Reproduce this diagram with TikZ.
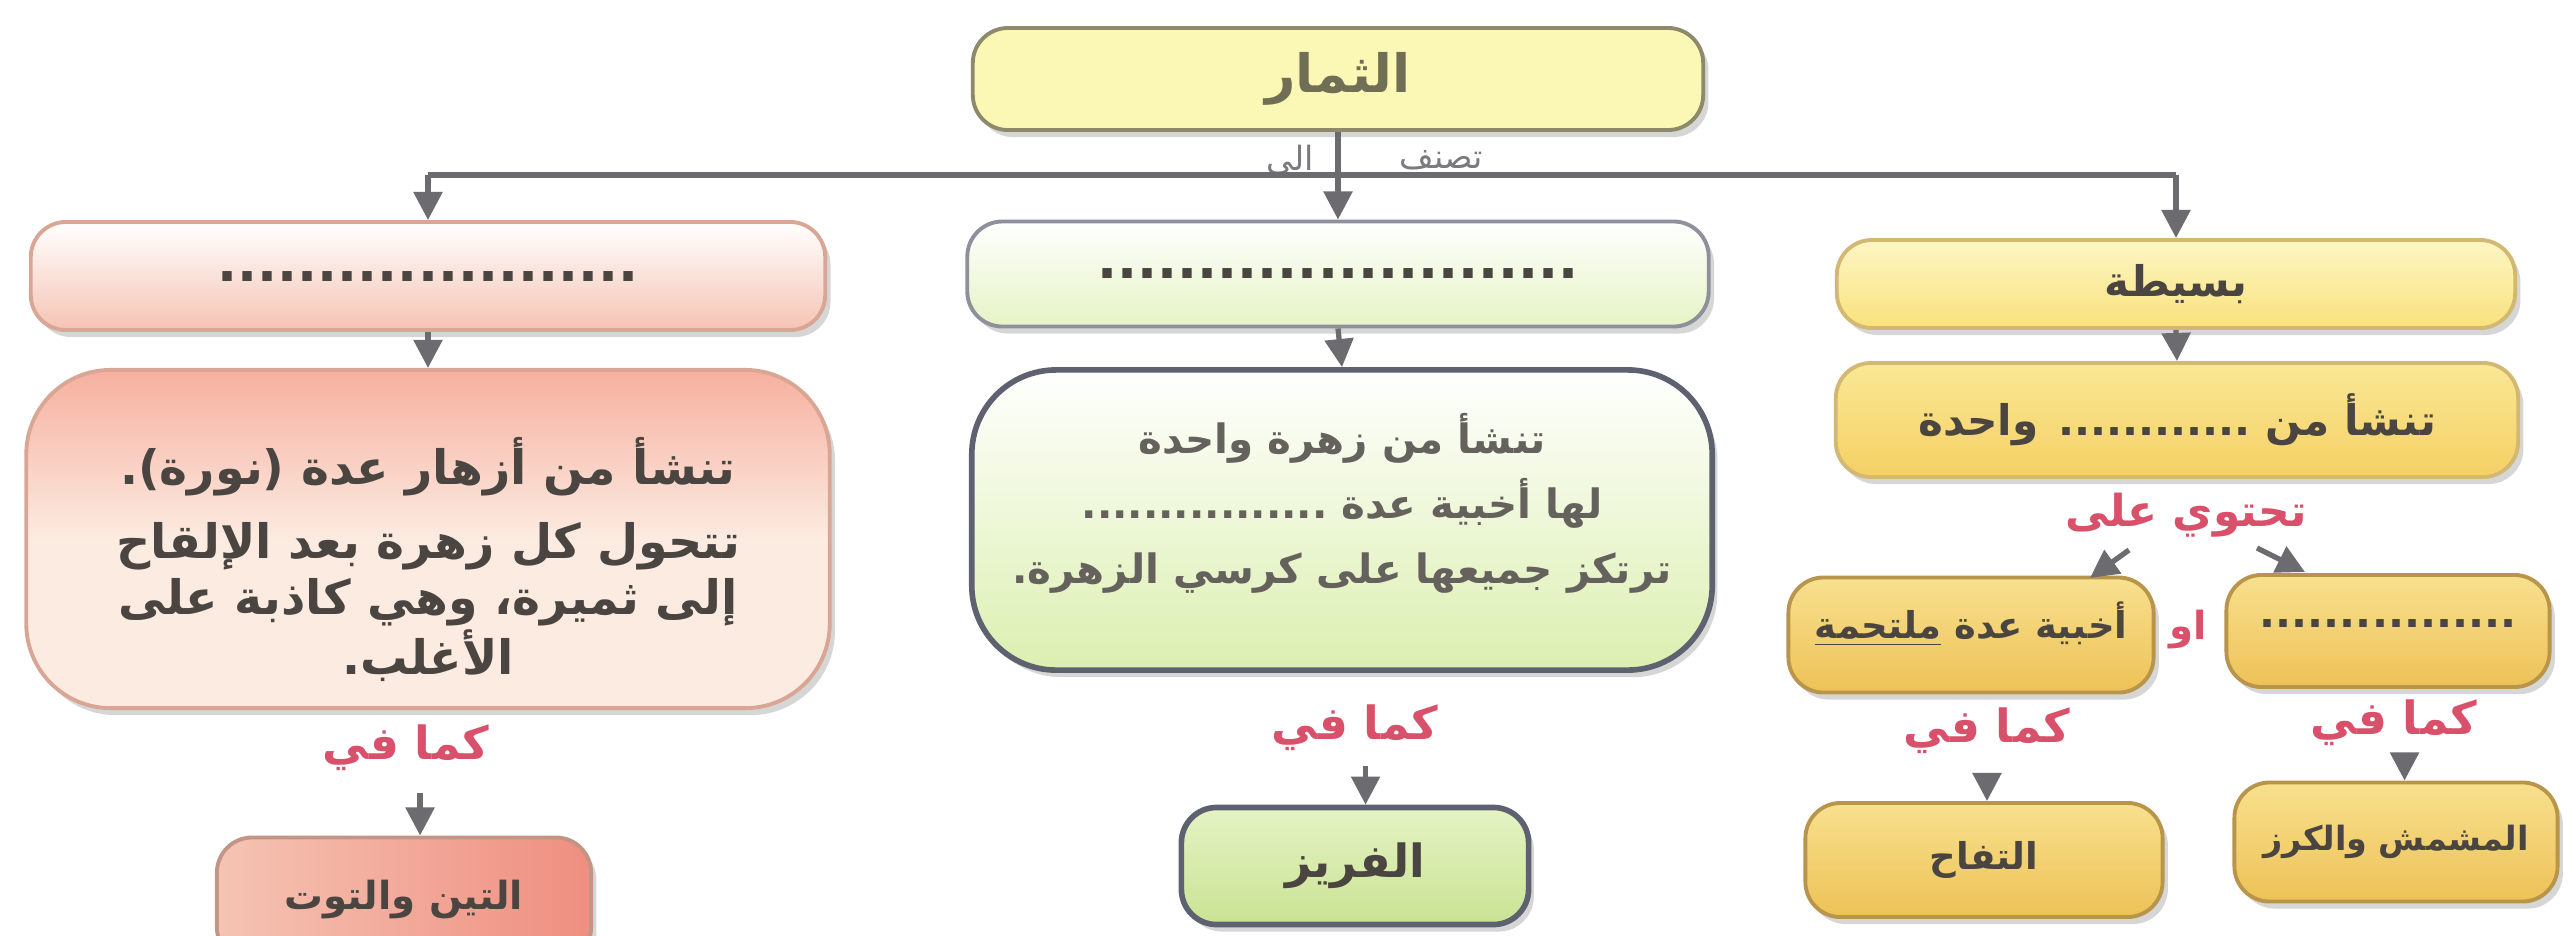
\documentclass[tikz,border=0pt]{standalone}
\usepackage{fontspec}
\setmainfont{DejaVu Sans}
\newfontfamily\arfont[Script=Arabic]{DejaVu Sans}
\TeXXeTstate=1
\usetikzlibrary{arrows.meta,shadows}
\newcommand{\AR}[1]{\beginR #1\endR}
\definecolor{arrgray}{HTML}{6C6C70}
\definecolor{redlab}{HTML}{D9506A}
\definecolor{txtdark}{HTML}{4A4540}
\definecolor{topfill}{HTML}{FBF7B4}
\definecolor{topdraw}{HTML}{8C8A6A}
\definecolor{pinkA}{HTML}{F5C4B4}
\definecolor{pinkB}{HTML}{F6B09F}
\definecolor{pinkC}{HTML}{FCEBE1}
\definecolor{pinkD}{HTML}{EF8E80}
\definecolor{pinkdraw}{HTML}{D9A696}
\definecolor{greenA}{HTML}{E5F3C4}
\definecolor{greenB}{HTML}{DCEFB0}
\definecolor{greenC}{HTML}{C9E393}
\definecolor{bluedraw}{HTML}{5E6170}
\definecolor{yelA}{HTML}{FDF6C4}
\definecolor{yelB}{HTML}{F8E27C}
\definecolor{yelC}{HTML}{F9E896}
\definecolor{yelD}{HTML}{F5D064}
\definecolor{yeldraw}{HTML}{D2B873}
\definecolor{goldA}{HTML}{F8E08E}
\definecolor{goldB}{HTML}{EDC257}
\definecolor{golddraw}{HTML}{B8954A}
\newcommand{\fs}[2]{\arfont\bfseries\fontsize{#1}{#2}\selectfont}
\newcommand{\up}[2]{\raisebox{#1}[\height][\depth]{#2}}
\begin{document}
\begin{tikzpicture}[x=0.01cm,y=-0.01cm,
  box/.style={rounded corners=10pt, line width=1.1pt, align=center, inner sep=0pt,
    font=\fs{12}{16}, text=txtdark,
    drop shadow={shadow xshift=1.5pt, shadow yshift=-2pt, fill=black!45, opacity=0.35}},
  arr/.style={draw=arrgray, line width=1.5pt, -{Triangle[width=8pt,length=8pt]}},
  lab/.style={font=\fs{13}{15}, text=redlab, inner sep=0pt},
  small/.style={font=\arfont\fontsize{9.5}{11}\selectfont, text=arrgray!90, inner sep=0pt}]
\useasboundingbox (0,0) rectangle (2574,935);
\clip (0,0) rectangle (2574,935);
\fill[white] (0,0) rectangle (2574,935);

% top
\node[box, draw=topdraw, fill=topfill, minimum width=7.3cm, minimum height=1.02cm,
  font=\fs{15}{18}, text=topdraw!80!black] (top) at (1338,79) {\AR{الثمار}};

% row 1
\node[box, draw=pinkdraw, top color=white, bottom color=pinkA, minimum width=7.94cm, minimum height=1.08cm, font=\fs{15}{16}] (L1) at (428,276) {.....................};
\node[box, draw=bluedraw!70, top color=white, bottom color=greenA, minimum width=7.41cm, minimum height=1.05cm, font=\fs{15}{16}] (M1) at (1338,274) {........................};
\node[box, draw=yeldraw, top color=yelA, bottom color=yelB, minimum width=6.78cm, minimum height=0.88cm] (R1) at (2176,284) {\AR{بسيطة}};

% row 2
\node[box, rounded corners=24pt, draw=pinkdraw, top color=pinkB, bottom color=pinkC, middle color=pinkC, minimum width=8.03cm, minimum height=3.38cm,
  font=\fs{13.5}{16}] (L2) at (428,539)
  {\mbox{}\\[9pt]\AR{تنشأ من أزهار عدة (نورة).}\\[5pt]\AR{تتحول كل زهرة بعد الإلقاح}\\\AR{إلى ثميرة، وهي كاذبة على}\\\AR{الأغلب.}};
\node[box, rounded corners=24pt, draw=bluedraw, line width=1.6pt, top color=white, bottom color=greenB, minimum width=7.4cm, minimum height=3.0cm,
  font=\fs{11.5}{18.5}, text=txtdark!85] (M2) at (1342,520)
  {\AR{تنشأ من زهرة واحدة}\\\AR{لها أخبية عدة ................}\\\AR{ترتكز جميعها على كرسي الزهرة.}\\[-6pt]};
\node[box, draw=yeldraw, top color=yelC, bottom color=yelD, minimum width=6.82cm, minimum height=1.14cm] (R2) at (2177,420) {\AR{تنشأ من ............ واحدة}};

% row 3 (right)
\node[box, draw=golddraw, top color=goldA, bottom color=goldB, minimum width=3.65cm, minimum height=1.15cm,
  font=\fs{10.5}{13}] (R3a) at (1971,635) {\up{3pt}{\AR{أخبية عدة \underline{ملتحمة}}}};
\node[box, draw=golddraw, top color=goldA, bottom color=goldB, minimum width=3.23cm, minimum height=1.12cm,
  font=\fs{12}{13}] (R3b) at (2388,631) {\up{2pt}{................}};

% bottom row
\node[box, draw=pinkdraw!90!black, left color=pinkA, right color=pinkD, minimum width=3.74cm, minimum height=1.25cm,
  font=\fs{11}{14}] (L3) at (404,900) {\AR{التين والتوت}};
\node[box, draw=bluedraw, line width=1.6pt, top color=greenA, bottom color=greenC, minimum width=3.47cm, minimum height=1.17cm,
  font=\fs{13}{16}] (M3) at (1355,866) {\AR{الفريز}};
\node[box, draw=golddraw, top color=goldA, bottom color=goldB, minimum width=3.57cm, minimum height=1.14cm,
  font=\fs{10.5}{14}] (R4a) at (1984,860) {\AR{التفاح}};
\node[box, draw=golddraw, top color=goldA, bottom color=goldB, minimum width=3.23cm, minimum height=1.19cm,
  font=\fs{9.5}{14}] (R4b) at (2396,842) {\AR{المشمش والكرز}};

% labels
\node[small] (tas) at (1441,160) {\AR{تصنف}};
\node[small] (ila) at (1290,160) {\AR{الى}};
\node[lab, font=\fs{12.5}{15}] (contains) at (2186,515) {\AR{تحتوي على}};
\node[lab, font=\fs{11}{13}] (aw) at (2188,630) {\AR{او}};
\node[lab] (kL) at (406,748) {\AR{كما في}};
\node[lab] (kM) at (1355,728) {\AR{كما في}};
\node[lab] (kRa) at (1987,731) {\AR{كما في}};
\node[lab] (kRb) at (2394,723) {\AR{كما في}};

% connectors
\coordinate (hl) at (428,175);
\coordinate (hr) at (2176,175);
\draw[arr] (top.south -| M1.north) -- (M1.north);
\draw[draw=arrgray, line width=1.5pt] (hl) -- (hr);
\draw[arr] (hl) -- (L1.north);
\draw[arr] (hr) -- (R1.north);
\draw[arr] (L1.south) -- (L2.north);
\draw[arr] (M1.south) -- (M2.north);
\draw[arr] (R1.south) -- (R2.north);
\coordinate (d1s) at (2129,550);
\coordinate (d1e) at (2090,578);
\coordinate (d2s) at (2257,548);
\coordinate (d2e) at (2305,572);
\draw[arr] (d1s) -- (d1e);
\draw[arr] (d2s) -- (d2e);
\draw[arr] ([xshift=4pt,yshift=-6pt]kL.south) -- ([xshift=4pt]kL.south |- L3.north);
\draw[arr] ([xshift=3pt,yshift=-4pt]kM.south) -- ([xshift=3pt]kM.south |- M3.north);
\draw[arr] ([yshift=-6pt]kRa.south) -- (kRa.south |- R4a.north);
\draw[arr] ([xshift=3pt,yshift=-5pt]kRb.south) -- ([xshift=3pt]kRb.south |- R4b.north);
\end{tikzpicture}
\end{document}
